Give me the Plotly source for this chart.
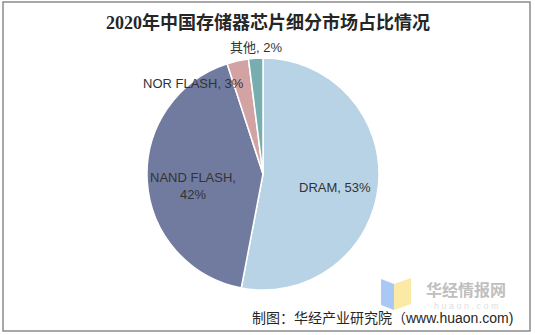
import plotly.graph_objects as go

labels = ["DRAM", "NAND FLASH", "NOR FLASH", "其他"]
values = [53, 42, 3, 2]
colors = ["#B7D3E5", "#717B9F", "#D3A3A4", "#79AEB0"]
label_texts = ["DRAM, 53%", "NAND FLASH,<br>42%", "NOR FLASH, 3%", "其他, 2%"]
# label anchor positions (pixels in 535x335 canvas)
label_pos = [(335, 187), (193, 186), (193, 83), (256, 47)]

W, H = 535, 335
cx, cy, R = 263, 174, 116

fig = go.Figure(go.Pie(
    labels=labels, values=values, sort=False, direction="clockwise", rotation=0,
    marker=dict(colors=colors, line=dict(color="white", width=1.5)),
    textinfo="none", hoverinfo="label+percent", showlegend=False,
    domain=dict(x=[(cx - R) / W, (cx + R) / W], y=[1 - (cy + R) / H, 1 - (cy - R) / H]),
))

anns = []
for t, (x, y) in zip(label_texts, label_pos):
    anns.append(dict(x=x / W, y=1 - y / H, xref="paper", yref="paper", text=t, showarrow=False,
                     font=dict(family="Liberation Sans, Noto Sans CJK SC", size=13, color="#333333"),
                     xanchor="center", yanchor="middle"))

anns.append(dict(x=268 / W, y=1 - 22 / H, xref="paper", yref="paper",
                 text="<b>2020年中国存储器芯片细分市场占比情况</b>", showarrow=False,
                 font=dict(family="Liberation Serif, Noto Sans CJK SC", size=18, color="#262626"),
                 xanchor="center", yanchor="middle"))
# watermark text
anns.append(dict(x=466 / W, y=1 - 289 / H, xref="paper", yref="paper", text="<b>华经情报网</b>",
                 showarrow=False, font=dict(family="Noto Sans CJK SC", size=16, color="#BFBFBF"),
                 xanchor="center", yanchor="middle"))
anns.append(dict(x=466 / W, y=1 - 306 / H, xref="paper", yref="paper", text="h u a o n . c o m",
                 showarrow=False, font=dict(family="Liberation Sans", size=9, color="#E0E0E0"),
                 xanchor="center", yanchor="middle"))
anns.append(dict(x=515 / W, y=1 - 318 / H, xref="paper", yref="paper",
                 text="制图：华经产业研究院（www.huaon.com)", showarrow=False,
                 font=dict(family="Liberation Sans, Noto Sans CJK SC", size=14, color="#262626"),
                 xanchor="right", yanchor="middle"))

def P(x, y):
    return f"{x / W} {1 - y / H}"

shapes = [
    dict(type="rect", xref="paper", yref="paper", x0=3 / W, x1=530 / W, y0=1 - 331 / H, y1=1 - 2 / H,
         line=dict(color="#8C8C8C", width=1.5), fillcolor="rgba(0,0,0,0)", layer="below"),
    dict(type="path", xref="paper", yref="paper",
         path=f"M {P(381, 279)} L {P(394, 284)} L {P(394, 310)} L {P(381, 305)} Z",
         fillcolor="#A9C8F5", line=dict(width=0), layer="below"),
    dict(type="path", xref="paper", yref="paper",
         path=f"M {P(394, 284)} L {P(411, 278)} L {P(411, 304)} L {P(394, 310)} Z",
         fillcolor="#FBE9A6", line=dict(width=0), layer="below"),
]

fig.update_layout(
    width=W, height=H, margin=dict(l=0, r=0, t=0, b=0),
    paper_bgcolor="white", plot_bgcolor="white",
    annotations=anns, shapes=shapes,
)
fig.write_html("out.html")
